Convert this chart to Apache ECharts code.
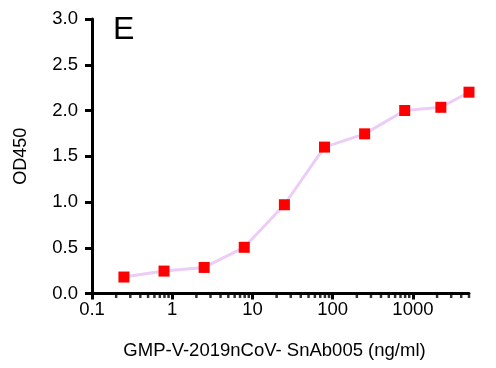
<!DOCTYPE html>
<html>
<head>
<meta charset="utf-8">
<style>
  html, body { margin: 0; padding: 0; background: #fff; }
  #chart { width: 496px; height: 368px; }
</style>
</head>
<body>
<div id="chart"></div>
<script src="https://cdn.jsdelivr.net/npm/echarts@6/dist/echarts.min.js"></script>
<script>
  // concentration (ng/ml) and OD450 readings
  var conc = [0.25, 0.79, 2.5, 7.9, 25, 79, 250, 790, 2230, 5000];
  var od450 = [0.18, 0.245, 0.285, 0.505, 0.97, 1.60, 1.745, 2.00, 2.035, 2.20];
  // minor log ticks (2..9 per decade)
  var minorTicks = [0.2, 0.3, 0.4, 0.5, 0.6, 0.7, 0.8, 0.9,
                    2, 3, 4, 5, 6, 7, 8, 9,
                    20, 30, 40, 50, 60, 70, 80, 90,
                    200, 300, 400, 500, 600, 700, 800, 900,
                    2000, 3000, 4000, 5000];

  var font = 'Liberation Sans, Arial, sans-serif';

  var chart = echarts.init(document.getElementById('chart'));
  chart.setOption({
    animation: false,
    title: {
      text: 'E', left: 108, top: 9,
      textStyle: { fontFamily: font, fontSize: 32, fontWeight: 'normal', color: '#000' }
    },
    grid: { left: 92, right: 27, top: 19, bottom: 74.5, outerBoundsMode: 'none', containLabel: false },
    xAxis: {
      type: 'log', logBase: 10, min: 0.1, max: 5000,
      name: 'GMP-V-2019nCoV- SnAb005 (ng/ml)',
      nameLocation: 'middle', nameGap: 48,
      nameTextStyle: { fontFamily: font, fontSize: 18.5, color: '#000', padding: [0, 12, 0, 0] },
      axisLine: { lineStyle: { color: '#000', width: 3 } },
      axisTick: { length: 6, lineStyle: { color: '#000', width: 3 } },
      axisLabel: {
        fontFamily: font, fontSize: 18.5, color: '#000', margin: 7, showMaxLabel: false,
        formatter: function (v) { return String(v); }
      },
      splitLine: { show: false }
    },
    yAxis: {
      type: 'value', min: 0, max: 3, interval: 0.5,
      name: 'OD450', nameLocation: 'middle', nameGap: 62, nameRotate: 90,
      nameTextStyle: { fontFamily: font, fontSize: 18, color: '#000' },
      axisLine: { show: true, lineStyle: { color: '#000', width: 3 } },
      axisTick: { show: true, length: 7, lineStyle: { color: '#000', width: 3 } },
      axisLabel: {
        fontFamily: font, fontSize: 18.5, color: '#000', margin: 14,
        formatter: function (v) { return v.toFixed(1); }
      },
      splitLine: { show: false }
    },
    series: [
      {
        type: 'scatter',
        data: minorTicks.map(function (v) { return [v, 0]; }),
        symbol: 'rect', symbolSize: [2.5, 3], symbolOffset: [0, 3],
        itemStyle: { color: '#000' }, clip: false, silent: true, z: 1
      },
      {
        type: 'line',
        data: conc.map(function (c, i) { return [c, od450[i]]; }),
        symbol: 'rect', symbolSize: 11, showSymbol: true,
        lineStyle: { color: '#ebcdf8', width: 3 },
        itemStyle: { color: '#ff0000' },
        clip: false, z: 3
      }
    ]
  });
</script>
</body>
</html>
